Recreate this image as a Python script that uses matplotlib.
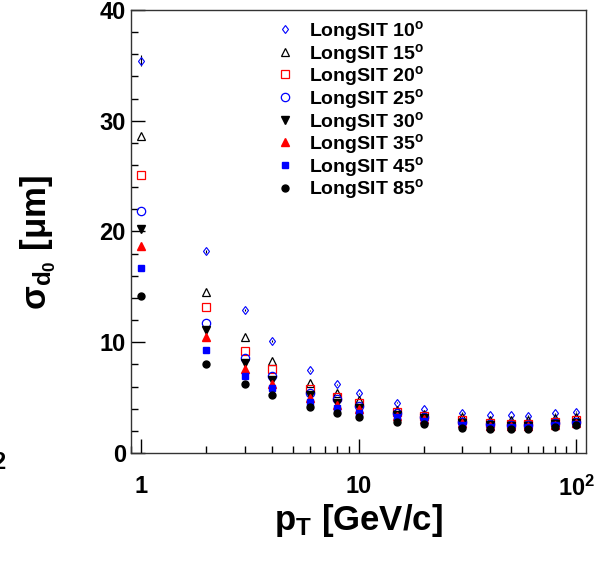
import matplotlib
matplotlib.use("Agg")
import matplotlib.pyplot as plt
from matplotlib.ticker import FixedLocator, FixedFormatter, MultipleLocator, LogLocator, NullFormatter

plt.rcParams["font.family"] = ["Liberation Sans", "DejaVu Sans"]
plt.rcParams["font.weight"] = "bold"
plt.rcParams["mathtext.fontset"] = "custom"
plt.rcParams["mathtext.rm"] = "Liberation Sans:bold"
plt.rcParams["mathtext.it"] = "Liberation Sans:bold"
plt.rcParams["mathtext.bf"] = "Liberation Sans:bold"

# pT points (GeV/c)
pt = [1, 2, 3, 4, 6, 8, 10, 15, 20, 30, 40, 50, 60, 80, 100]

# sigma d0 (um) per polar angle
s10 = [35.4, 18.2, 12.9, 10.1, 7.46, 6.2, 5.39, 4.54, 3.97, 3.64, 3.43, 3.43, 3.37, 3.58, 3.73]
s15 = [28.6, 14.5, 10.45, 8.34, 6.29, 5.39, 4.79, 3.88, 3.52, 3.22, 2.98, 2.98, 2.98, 3.13, 3.22]
s20 = [25.1, 13.2, 9.24, 7.55, 5.75, 5.03, 4.49, 3.73, 3.34, 2.98, 2.68, 2.62, 2.62, 2.83, 2.98]
s25 = [21.85, 11.7, 8.58, 6.98, 5.39, 4.85, 4.24, 3.58, 3.22, 2.83, 2.59, 2.53, 2.53, 2.68, 2.83]
s30 = [20.2, 11.1, 8.1, 6.6, 5.2, 4.49, 4.03, 3.43, 3.13, 2.74, 2.5, 2.47, 2.47, 2.62, 2.74]
s35 = [18.7, 10.45, 7.55, 6.23, 5.0, 4.33, 3.94, 3.34, 3.04, 2.68, 2.44, 2.41, 2.41, 2.56, 2.68]
s45 = [16.7, 9.3, 6.95, 5.84, 4.63, 4.03, 3.64, 3.22, 2.92, 2.53, 2.38, 2.35, 2.35, 2.5, 2.59]
s85 = [14.2, 8.0, 6.2, 5.2, 4.12, 3.64, 3.28, 2.77, 2.59, 2.23, 2.17, 2.14, 2.17, 2.38, 2.53]
err10 = [0.5, 0.15, 0.1, 0.08, 0.06, 0.05, 0.05, 0.04, 0.04, 0.04, 0.04, 0.04, 0.04, 0.04, 0.04]

labels = [r"LongSIT 10$^{o}$", r"LongSIT 15$^{o}$", r"LongSIT 20$^{o}$", r"LongSIT 25$^{o}$",
          r"LongSIT 30$^{o}$", r"LongSIT 35$^{o}$", r"LongSIT 45$^{o}$", r"LongSIT 85$^{o}$"]

styles = [
    dict(marker="d", mfc="none", mec="blue", ms=4.5, mew=0.8),
    dict(marker="^", mfc="none", mec="black", ms=6, mew=0.9),
    dict(marker="s", mfc="none", mec="red", ms=6, mew=0.9),
    dict(marker="o", mfc="none", mec="blue", ms=6, mew=0.9),
    dict(marker="v", mfc="black", mec="black", ms=5.5),
    dict(marker="^", mfc="red", mec="red", ms=5.5),
    dict(marker="s", mfc="blue", mec="blue", ms=5),
    dict(marker="o", mfc="black", mec="black", ms=5),
]
series = [s10, s15, s20, s25, s30, s35, s45, s85]

fig = plt.figure(figsize=(6.0, 5.63), dpi=100)
ax = fig.add_axes([0.218, 0.1954, 0.759, 0.787])

handles = []
for i, (s, st, lab) in enumerate(zip(series, styles, labels)):
    if i == 0:
        ax.errorbar(pt, s, yerr=err10, ls="none", marker="none", ecolor="black",
                    elinewidth=0.8, capsize=0)
    h, = ax.plot(pt, s, ls="none", label=lab, **st)
    handles.append(h)

ax.set_xscale("log")
ax.set_xlim(0.9, 111)
ax.set_ylim(0, 40)

ax.xaxis.set_major_locator(FixedLocator([1, 10, 100]))
ax.xaxis.set_major_formatter(FixedFormatter(["1", "10", r"10$^{2}$"]))
ax.xaxis.set_minor_locator(LogLocator(base=10, subs=range(2, 10)))
ax.xaxis.set_minor_formatter(NullFormatter())
ax.yaxis.set_major_locator(MultipleLocator(10))
ax.yaxis.set_minor_locator(MultipleLocator(2))

ax.tick_params(which="both", direction="in", top=False, right=False, labelsize=17)
ax.tick_params(which="major", length=10, width=1)
ax.tick_params(which="minor", length=5, width=1)
ax.tick_params(axis="x", pad=16)
for sp in ax.spines.values():
    sp.set_linewidth(1.0)
    sp.set_color("#333333")

ax.set_xlabel(r"p$_{T}$ [GeV/c]", fontsize=25, fontweight="bold", labelpad=1)
ax.set_ylabel(r"$\mathregular{\sigma}_{d_{0}}$ [$\mu$m]", fontsize=25, fontweight="bold")
ax.yaxis.set_label_coords(-0.16, 0.476)

ax.legend(handles=handles, loc="upper left", bbox_to_anchor=(0.3, 0.997), frameon=False,
          fontsize=14, handlelength=1.0, handletextpad=0.75, labelspacing=-0.07,
          borderaxespad=0.0)

fig.text(5 / 600, 0.179, "2", ha="right", va="center", fontsize=17, fontweight="bold")

fig.savefig("out.png", dpi=100)
